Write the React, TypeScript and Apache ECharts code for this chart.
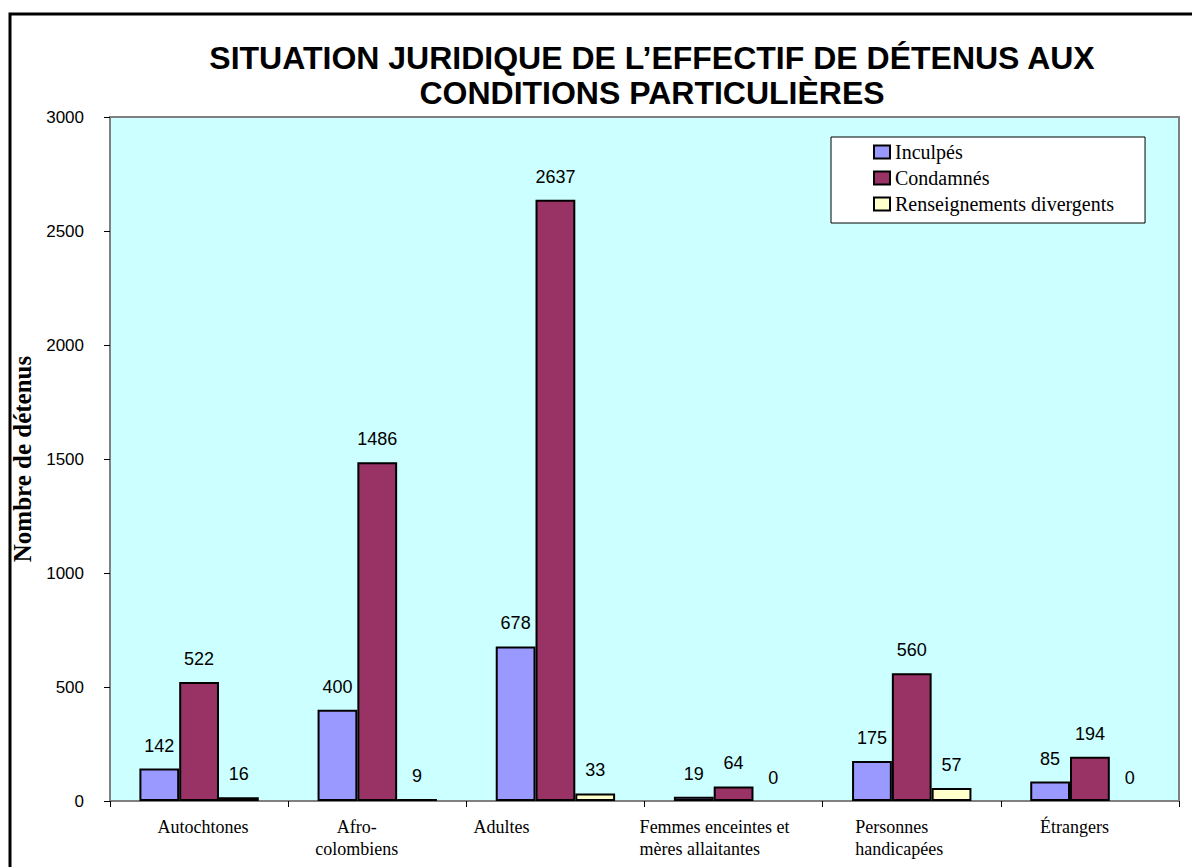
import React, { useEffect, useRef } from "react";
import * as echarts from "echarts";

const titleLines = [
  "SITUATION JURIDIQUE DE L\u2019EFFECTIF DE DÉTENUS AUX",
  "CONDITIONS PARTICULIÈRES",
];
const categories = [
  "Autochtones",
  "Afro-\ncolombiens",
  "Adultes",
  "Femmes enceintes et\nmères allaitantes",
  "Personnes\nhandicapées",
  "Étrangers",
];
const seriesNames = ["Inculpés", "Condamnés", "Renseignements divergents"];
const inculpes = [142, 400, 678, 19, 175, 85];
const condamnes = [522, 1486, 2637, 64, 560, 194];
const divergents = [16, 9, 33, 0, 57, 0];
const yAxisTitle = "Nombre de détenus";
const yMin = 0;
const yMax = 3000;
const yInterval = 500;

const ARIAL = "Arial, 'Liberation Sans', sans-serif";
const TIMES = "'Times New Roman', 'Liberation Serif', serif";

export default function App() {
  const ref = useRef<HTMLDivElement>(null);
  useEffect(() => {
    document.body.style.margin = "0";
    if (!ref.current) return;
    const chart = echarts.init(ref.current, undefined, { renderer: "svg" });

    // per-category label placement tweaks (styling only)
    const labelPads: number[][] = [
      [0, 0, 0, 8],
      [0, 41, 0, 0],
      [0, 108, 0, 0],
      [0, 38, 0, 0],
      [0, 25, 0, 0],
      [0, 31, 0, 0],
    ];
    const leftAligned = [false, false, false, true, true, false];

    const catData = categories.map((c, i) => ({
      value: c,
      textStyle: { padding: labelPads[i] },
    }));

    const mk = (arr: number[]) =>
      arr.map((v) => (v === 0 ? { value: v, itemStyle: { borderWidth: 0 } } : v));

    const colors = ["#9999FF", "#993366", "#FFFFCC"];
    const dataSets = [inculpes, condamnes, divergents];

    chart.setOption({
      animation: false,
      title: {
        text: titleLines.join("\n"),
        left: 652,
        top: 40,
        padding: 0,
        textAlign: "center",
        textStyle: {
          fontFamily: ARIAL,
          fontWeight: "bold",
          fontSize: 32,
          lineHeight: 35,
          color: "#000",
        },
      },
      graphic: [
        {
          type: "rect",
          shape: { x: 10, y: 14, width: 1200, height: 900 },
          style: { fill: "none", stroke: "#000", lineWidth: 3 },
          silent: true,
        },
      ],
      legend: {
        orient: "vertical",
        left: 831,
        top: 137,
        padding: [5, 31, 9, 42],
        itemGap: 6,
        itemWidth: 16,
        itemHeight: 13,
        backgroundColor: "#fff",
        borderColor: "#000",
        borderWidth: 1,
        icon: "rect",
        itemStyle: { borderColor: "#000", borderWidth: 2 },
        textStyle: { fontFamily: TIMES, fontSize: 20, color: "#000", lineHeight: 20 },
        data: seriesNames,
      },
      grid: {
        left: 110,
        right: 13,
        top: 117,
        bottom: 66,
        show: true,
        backgroundColor: "#CCFFFF",
        borderColor: "#808080",
        borderWidth: 2,
      },
      xAxis: {
        type: "category",
        data: catData,
        axisLine: { show: true, lineStyle: { color: "#808080", width: 2 } },
        axisTick: { show: true, length: 6, lineStyle: { color: "#000", width: 1 } },
        axisLabel: {
          interval: 0,
          margin: 15,
          fontFamily: TIMES,
          fontSize: 18,
          lineHeight: 22,
          color: "#000",
          formatter: (val: string, idx: number) => {
            if (leftAligned[idx]) {
              return val
                .split("\n")
                .map((s) => "{l|" + s + "}")
                .join("\n");
            }
            return val;
          },
          rich: {
            l: {
              align: "left",
              fontFamily: TIMES,
              fontSize: 18,
              lineHeight: 22,
              color: "#000",
            },
          },
        },
        splitLine: { show: false },
      },
      yAxis: {
        type: "value",
        min: yMin,
        max: yMax,
        interval: yInterval,
        name: yAxisTitle,
        nameLocation: "middle",
        nameGap: 67,
        nameTextStyle: {
          fontFamily: TIMES,
          fontWeight: "bold",
          fontSize: 25,
          color: "#000",
        },
        axisLine: { show: true, lineStyle: { color: "#808080", width: 2 } },
        axisTick: { show: true, length: 6, lineStyle: { color: "#000", width: 1 } },
        axisLabel: {
          margin: 26,
          fontFamily: ARIAL,
          fontSize: 17,
          color: "#000",
          formatter: (v: number) => String(v),
        },
        splitLine: { show: false },
      },
      series: seriesNames.map((name, i) => ({
        name,
        type: "bar",
        data: mk(dataSets[i]),
        barGap: "0%",
        barCategoryGap: "33%",
        itemStyle: { color: colors[i], borderColor: "#000", borderWidth: 2 },
        label: {
          show: true,
          position: "top",
          distance: 14,
          fontFamily: ARIAL,
          fontSize: 18,
          color: "#000",
        },
      })),
    });
    return () => chart.dispose();
  }, []);
  return <div ref={ref} style={{ width: 1192, height: 867 }} />;
}
